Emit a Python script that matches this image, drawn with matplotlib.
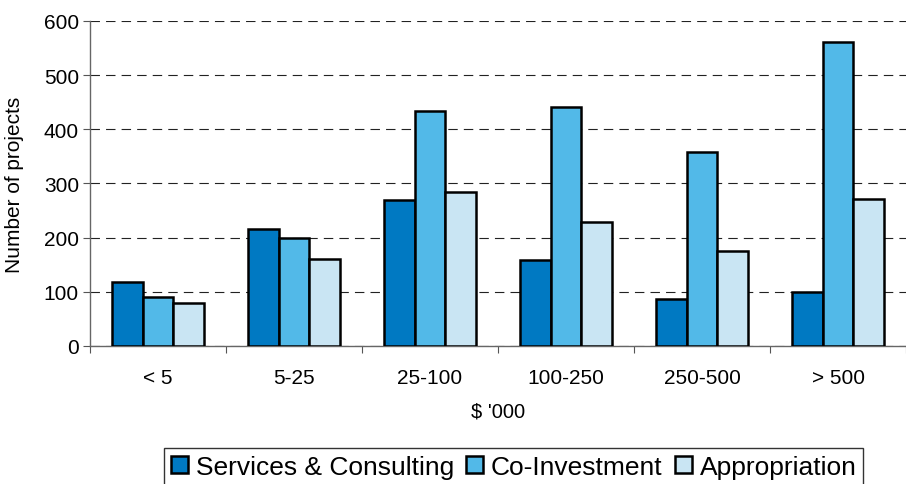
import numpy as np
import matplotlib
matplotlib.use("Agg")
import matplotlib.pyplot as plt

plt.rcParams['font.family'] = ['Liberation Sans', 'DejaVu Sans']

categories = ["< 5", "5-25", "25-100", "100-250", "250-500", "> 500"]
services = [118, 216, 270, 159, 87, 99]
coinvest = [91, 200, 434, 441, 359, 562]
appropriation = [80, 160, 284, 229, 175, 272]

series = [("Services & Consulting", services, "#0079C2"),
          ("Co-Investment", coinvest, "#52B9E8"),
          ("Appropriation", appropriation, "#C9E5F3")]

fig = plt.figure(figsize=(9.06, 4.85), dpi=100)
ax = fig.add_axes([90/906, 1 - 347/485, 816/906, 325/485])

x = np.arange(len(categories))
w = 0.225
for i, (name, vals, col) in enumerate(series):
    ax.bar(x + (i - 1) * w, vals, w, color=col, edgecolor="black",
           linewidth=1.8, label=name, zorder=3)

ax.set_xlim(-0.5, len(categories) - 0.5)
ax.set_ylim(0, 600)
ax.set_yticks(range(0, 601, 100))
ax.yaxis.grid(True, color="#222222", linestyle=(0, (8.5, 5.5)), linewidth=0.8)
ax.set_axisbelow(True)

# category labels sit between the boundary ticks
ax.set_xticks(np.arange(len(categories) + 1) - 0.5)
ax.set_xticklabels([])
ax.set_xticks(x, minor=True)
ax.set_xticklabels(categories, minor=True)
ax.tick_params(axis="x", which="minor", length=0, pad=16, labelsize=15)
ax.tick_params(axis="x", which="major", length=5, color="#555555")
ax.tick_params(axis="y", length=5, color="#555555", labelsize=15, pad=3)

for s in ["top", "right"]:
    ax.spines[s].set_visible(False)
for s in ["left", "bottom"]:
    ax.spines[s].set_color("#666666")
    ax.spines[s].set_linewidth(1.0)

ax.set_ylabel("Number of projects", fontsize=15, labelpad=14)
ax.set_xlabel("$ '000", fontsize=14.5, labelpad=10)

leg = fig.legend(loc="upper center", bbox_to_anchor=(0.567, 1 - 449/485), ncol=3,
                 fontsize=19, frameon=True, fancybox=False, edgecolor="black",
                 handlelength=0.65, handleheight=0.65, handletextpad=0.3,
                 columnspacing=0.45, borderpad=0.25, borderaxespad=0)
leg.get_frame().set_linewidth(1.0)

fig.savefig("out.png", dpi=100)
